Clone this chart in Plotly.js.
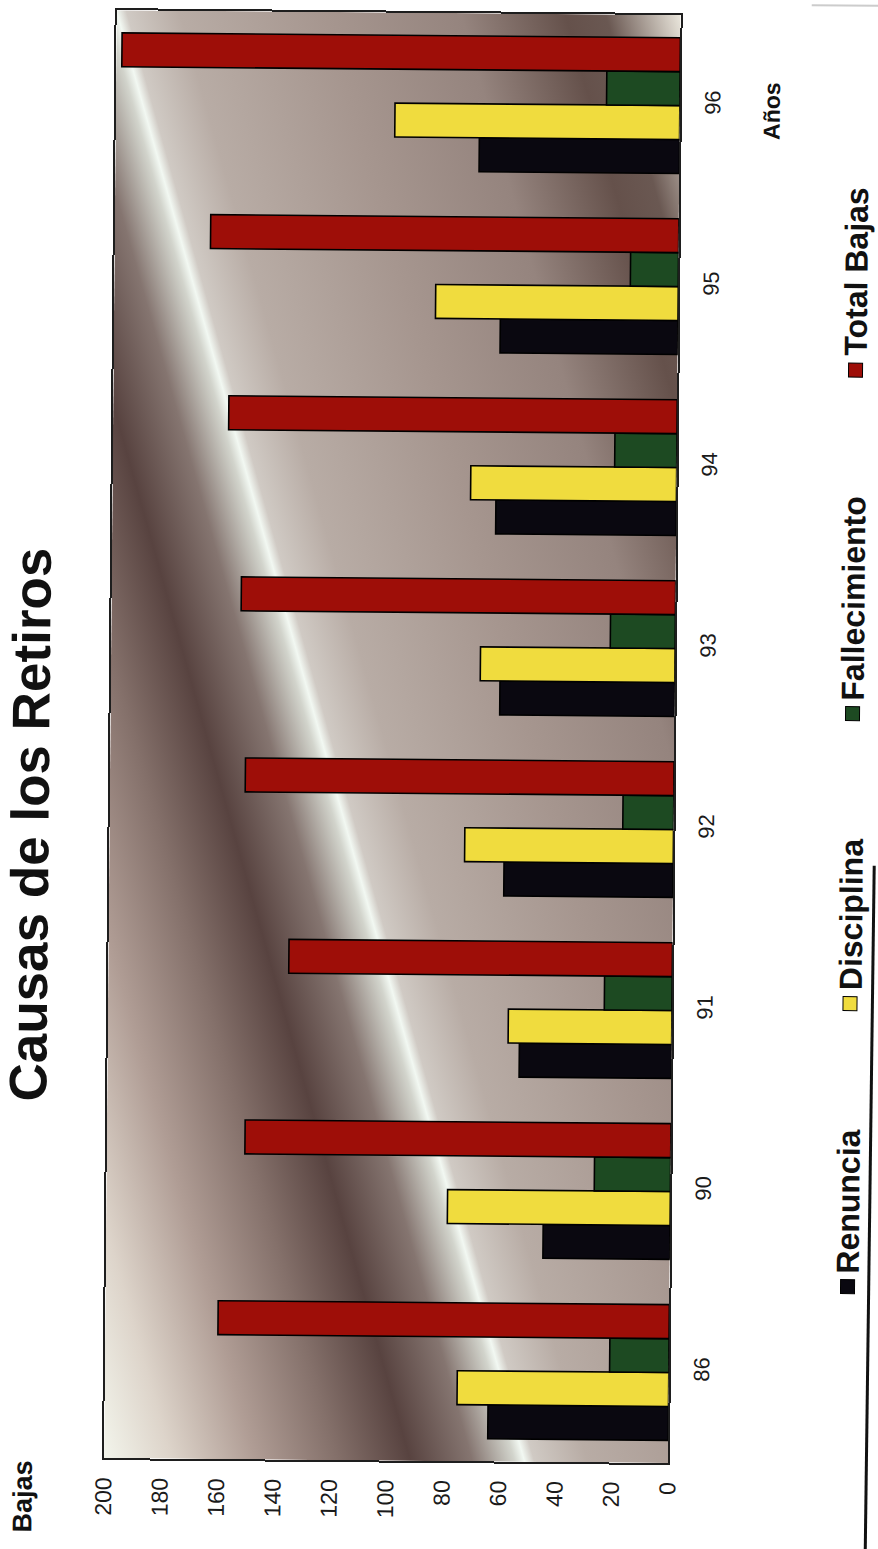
<!DOCTYPE html>
<html>
<head>
<meta charset="utf-8">
<script src="https://cdn.plot.ly/plotly-3.0.1.min.js"></script>
<style>
  html, body { margin: 0; padding: 0; background: #ffffff; overflow: hidden; }
  #chart { width: 878px; height: 1549px; transform: rotate(0.5deg); transform-origin: 439px 774px; }
</style>
</head>
<body>
<div id="chart"></div>
<script>
// ---- data ----
const years = ['86', '90', '91', '92', '93', '94', '95', '96'];
const renuncia = [64, 45, 54, 60, 62, 64, 63, 71];
const disciplina = [75, 79, 58, 74, 69, 73, 86, 101];
const fallecimiento = [21, 27, 24, 18, 23, 22, 17, 26];
const totalBajas = [160, 151, 136, 152, 154, 159, 166, 198];
const valueTicks = [0, 20, 40, 60, 80, 100, 120, 140, 160, 180, 200];
const seriesNames = ['Renuncia', 'Disciplina', 'Fallecimiento', 'Total Bajas'];
const seriesColors = ['#0a0810', '#f0dc3e', '#1d4a22', '#9e0e08'];
const chartTitle = 'Causas de los Retiros';
const valueAxisTitle = 'Bajas';
const categoryAxisTitle = 'Años';

// ---- geometry ----
const W = 878, H = 1549;
const M = { l: 110, r: 204, t: 13, b: 88 };
const PW = W - M.l - M.r, PH = H - M.t - M.b;
const px = v => (v - M.l) / PW;
const py = v => (H - M.b - v) / PH;
const FONT = 'Arial, "Liberation Sans", sans-serif';

const seriesValues = [renuncia, disciplina, fallecimiento, totalBajas];
const traces = seriesNames.map((name, i) => ({
  type: 'bar',
  orientation: 'h',
  name: name,
  y: years,
  x: seriesValues[i],
  marker: { color: seriesColors[i], line: { color: '#000000', width: 1.6 } },
  hoverinfo: 'x+name',
  showlegend: false
}));

// background gradient of the plot area
const svg = `<svg xmlns="http://www.w3.org/2000/svg" width="${PW}" height="${PH}" viewBox="0 0 ${PW} ${PH}" preserveAspectRatio="none">
<defs><linearGradient id="g" gradientUnits="userSpaceOnUse" x1="-389" y1="113" x2="519" y2="-151">
<stop offset="0" stop-color="#f3f5ec"/>
<stop offset="0.069" stop-color="#ddd4ca"/>
<stop offset="0.154" stop-color="#b09d95"/>
<stop offset="0.238" stop-color="#84706a"/>
<stop offset="0.312" stop-color="#584340"/>
<stop offset="0.375" stop-color="#857570"/>
<stop offset="0.418" stop-color="#d2d4cc"/>
<stop offset="0.428" stop-color="#f2f8f2"/>
<stop offset="0.438" stop-color="#d0cac4"/>
<stop offset="0.492" stop-color="#b8aca5"/>
<stop offset="0.640" stop-color="#a6968f"/>
<stop offset="0.778" stop-color="#95847e"/>
<stop offset="0.884" stop-color="#65514b"/>
<stop offset="0.925" stop-color="#6a5852"/>
<stop offset="1" stop-color="#e8e4da"/>
</linearGradient></defs>
<rect x="0" y="0" width="${PW}" height="${PH}" fill="url(#g)"/>
</svg>`;
const bgSource = 'data:image/svg+xml;charset=utf-8,' + encodeURIComponent(svg);

// legend entries (rotated, drawn as annotations + squares)
const legendFont = 32;
const legendSq = [1283, 1000, 710, 366.5];
const legendTxt = [1198, 911.5, 595, 268];
const annotations = [
  { text: '<b>' + chartTitle + '</b>', x: px(30), y: py(828), font: { size: 53, color: '#111' } },
  { text: '<b>' + valueAxisTitle + '</b>', x: px(29), y: py(1500), font: { size: 27, color: '#111' } },
  { text: '<b>' + categoryAxisTitle + '</b>', x: px(766), y: py(108), font: { size: 23, color: '#111' } }
].concat(seriesNames.map((n, i) => ({
  text: '<b>' + n + '</b>', x: px(852), y: py(legendTxt[i]), font: { size: legendFont, color: '#111' }
}))).map(a => Object.assign({
  xref: 'paper', yref: 'paper', showarrow: false, textangle: -90,
  xanchor: 'center', yanchor: 'middle'
}, a));

const shapes = seriesNames.map((n, i) => ({
  type: 'rect', xref: 'paper', yref: 'paper', layer: 'above',
  x0: px(845), x1: px(859), y0: py(legendSq[i] + 7), y1: py(legendSq[i] - 7),
  fillcolor: seriesColors[i], line: { color: '#000', width: 1 }
}));
shapes.push({ type: 'line', xref: 'paper', yref: 'paper', x0: px(875), y0: py(862), x1: px(872), y1: py(1549), line: { color: '#111', width: 3 } });
shapes.push({ type: 'line', xref: 'paper', yref: 'paper', x0: px(805), y0: py(2), x1: px(878), y1: py(2), line: { color: '#cccccc', width: 2 } });

const layout = {
  width: W, height: H,
  margin: M,
  font: { family: FONT, color: '#111' },
  paper_bgcolor: '#ffffff',
  plot_bgcolor: 'rgba(0,0,0,0)',
  barmode: 'group', bargap: 0.25, bargroupgap: 0,
  showlegend: false,
  xaxis: {
    range: [200, 0], tickmode: 'array', tickvals: valueTicks, ticktext: valueTicks.map(String),
    tickangle: -90, ticks: '', ticklabelstandoff: 8,
    tickfont: { size: 23, color: '#1a1a1a', family: FONT },
    showgrid: false, zeroline: false, showline: true, mirror: true, linecolor: '#1e1e1e', linewidth: 2,
    fixedrange: true
  },
  yaxis: {
    type: 'category', categoryorder: 'array', categoryarray: years, range: [-0.5, 7.5],
    side: 'right', tickangle: -90, ticks: '', ticklabelstandoff: 12,
    tickfont: { size: 22, color: '#1a1a1a', family: FONT },
    showgrid: false, zeroline: false, showline: true, mirror: true, linecolor: '#1e1e1e', linewidth: 2,
    fixedrange: true
  },
  images: [{
    source: bgSource, xref: 'paper', yref: 'paper', x: 0, y: 1, sizex: 1, sizey: 1,
    xanchor: 'left', yanchor: 'top', sizing: 'stretch', layer: 'below'
  }],
  annotations: annotations,
  shapes: shapes
};

Plotly.newPlot('chart', traces, layout, { displayModeBar: false, staticPlot: true });
</script>
</body>
</html>
